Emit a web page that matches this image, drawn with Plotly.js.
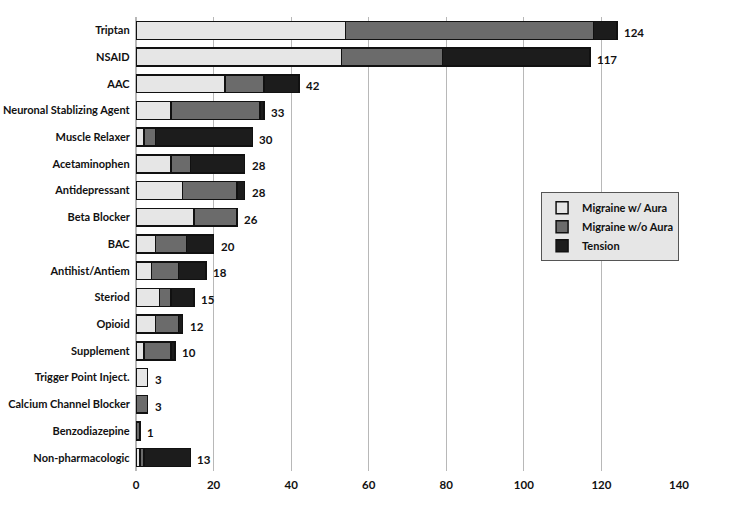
<!DOCTYPE html>
<html>
<head>
<meta charset="utf-8">
<script src="https://cdn.plot.ly/plotly-3.0.1.min.js"></script>
<style>html,body{margin:0;padding:0;background:#fff;}#chart{width:750px;height:518px;}</style>
</head>
<body>
<div id="chart"></div>
<script>
const categories = ["Triptan","NSAID","AAC","Neuronal Stablizing Agent","Muscle Relaxer","Acetaminophen","Antidepressant","Beta Blocker","BAC","Antihist/Antiem","Steriod","Opioid","Supplement","Trigger Point Inject.","Calcium Channel Blocker","Benzodiazepine","Non-pharmacologic"];
const withAura    = [54,53,23,9,2,9,12,15,5,4,6,5,2,3,0,0,1];
const withoutAura = [64,26,10,23,3,5,14,11,8,7,3,6,7,0,3,1,1];
const tension     = [6,38,9,1,25,14,2,0,7,7,6,1,1,0,0,0,12];
const totals      = [124,117,42,33,30,28,28,26,20,18,15,12,10,3,3,1,13];
const xTicks = [0,20,40,60,80,100,120,140];

const fontFam = "Lato, 'Open Sans', sans-serif";
const lineStyle = {color:'#111', width:1.5};

const traces = [
  {name:'Migraine w/ Aura', legendgroup:'a', x:withAura, marker:{color:'#e6e6e6', line:lineStyle}},
  {name:'Migraine w/o Aura', legendgroup:'b', x:withoutAura, marker:{color:'#6b6b6b', line:lineStyle}},
  {name:'Tension', legendgroup:'c', x:tension, marker:{color:'#1c1c1c', line:lineStyle}}
].map(t => Object.assign({type:'bar', orientation:'h', y:categories, hoverinfo:'x+name'}, t));

const ends = categories.map((c,i)=>withAura[i]+withoutAura[i]+tension[i]);
const annotations = categories.map((c,i)=>({
  x: ends[i], y: c, xref:'x', yref:'y', text: String(totals[i]),
  showarrow:false, xanchor:'left', xshift:5, yshift:-2,
  font:{family:fontFam, size:11.5, color:'#111', weight:700}
}));

const layout = {
  width:750, height:518,
  margin:{l:136, r:71, t:17, b:47},
  paper_bgcolor:'#fff', plot_bgcolor:'#fff',
  barmode:'stack', bargap:0.33,
  showlegend:true,
  legend:{x:0.746, y:0.614, xanchor:'left', yanchor:'top', bgcolor:'#e6e6e6', bordercolor:'#555', borderwidth:1,
          traceorder:'normal', tracegroupgap:10,
          font:{family:fontFam, size:11, color:'#111', weight:700}, itemwidth:30},
  xaxis:{range:[0,140], tickvals:xTicks, ticktext:xTicks.map(String), showgrid:true, gridcolor:'#b8b8b8', gridwidth:1.2,
         zeroline:true, zerolinecolor:'#b8b8b8', zerolinewidth:1.2, showline:false, ticks:'outside', ticklen:3, tickcolor:'#fff',
         tickfont:{family:fontFam, size:11.5, color:'#111', weight:700}, fixedrange:true},
  yaxis:{type:'category', autorange:'reversed', showgrid:false, showline:false, ticks:'', ticklen:0,
         tickfont:{family:fontFam, size:11, color:'#111', weight:700}, fixedrange:true, ticksuffix:'  '},
  annotations:annotations
};
Plotly.newPlot('chart', traces, layout, {displayModeBar:false, staticPlot:true});
</script>
</body>
</html>
